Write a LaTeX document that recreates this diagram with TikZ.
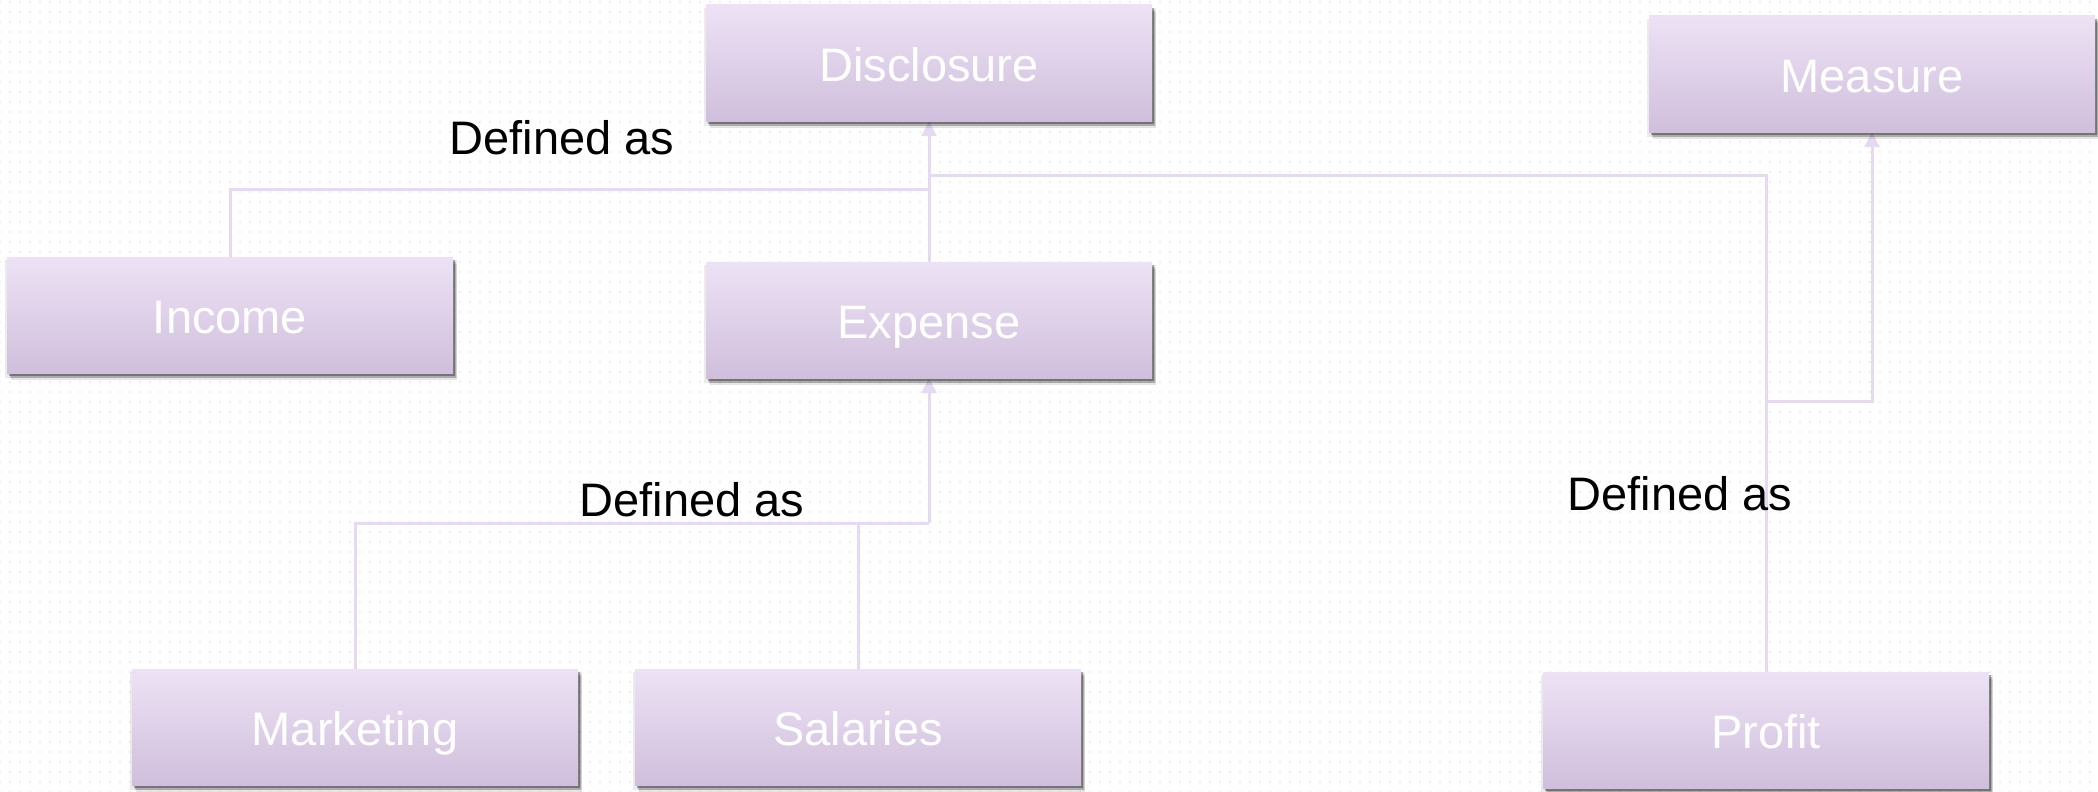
\documentclass[tikz,border=0pt]{standalone}
\usepackage{fontspec}
\setmainfont{Liberation Sans}
\usetikzlibrary{arrows.meta,shadows,patterns.meta}
\pgfdeclarelayer{bg}
\pgfdeclarelayer{lines}
\pgfsetlayers{bg,lines,main}
\definecolor{boxtop}{HTML}{EDE2F5}
\definecolor{boxmid}{HTML}{E6D8F0}
\definecolor{boxbot}{HTML}{D0BFDC}
\definecolor{conncol}{HTML}{E6DAF2}
\tikzset{
  box/.style={rectangle, minimum width=446pt, minimum height=116pt, inner sep=0pt,
    top color=boxtop, middle color=boxmid, bottom color=boxbot,
    text=white, font=\fontsize{47}{52}\selectfont, text height=37pt, text depth=0pt,
    drop shadow={shadow xshift=1pt, shadow yshift=-4pt, shadow scale=1.012, opacity=0.08, fill=black},
    drop shadow={shadow xshift=4pt, shadow yshift=-7pt, opacity=0.10, fill=black},
    drop shadow={shadow xshift=3pt, shadow yshift=-5pt, opacity=0.18, fill=black},
    drop shadow={shadow xshift=2pt, shadow yshift=-3pt, opacity=0.32, fill=black}},
  conn/.style={draw=conncol, line width=3pt},
  tip/.style={-{Triangle[width=15pt,length=15pt]}},
  lbl/.style={text=black, font=\fontsize{47}{52}\selectfont, inner sep=0pt}
}
\begin{document}
\begin{tikzpicture}[x=1pt,y=-1pt]
\useasboundingbox (0,0) rectangle (2098,792);
\begin{pgfonlayer}{bg}
\fill[white] (0,0) rectangle (2098,792);
\fill[pattern={Dots[distance=10pt,radius=0.9pt]}, pattern color=black!12] (0,0) rectangle (2098,792);
\end{pgfonlayer}

\node[box] (disclosure) at (929,63) {Disclosure};
\node[box] (measure) at (1872,74) {Measure};
\node[box] (income) at (230,315) {Income};
\node[box] (expense) at (929,320) {Expense};
\node[box] (marketing) at (355,727) {Marketing};
\node[box] (salaries) at (858,727) {Salaries};
\node[box] (profit) at (1766,730) {Profit};

\node[lbl] (l1) at (562,138) {Defined as};
\node[lbl] (l2) at (692,500) {Defined as};
\node[lbl] (l3) at (1680,494) {Defined as};

\coordinate (jd) at (929,189);
\coordinate (jp) at (929,175);
\coordinate (jm) at (1766,401);
\coordinate (je) at (929,523);

\begin{pgfonlayer}{lines}
\draw[conn] (income.north) |- (jd);
\draw[conn] (profit.north) |- (jp);
\draw[conn,tip] (jm) -| (measure.south);
\draw[conn] (marketing.north) |- (je);
\draw[conn] (salaries.north) -- (salaries.north |- je);
\draw[conn,tip] (expense.north) -- (disclosure.south);
\draw[conn,tip] (je) -- (expense.south);
\end{pgfonlayer}
\end{tikzpicture}
\end{document}
